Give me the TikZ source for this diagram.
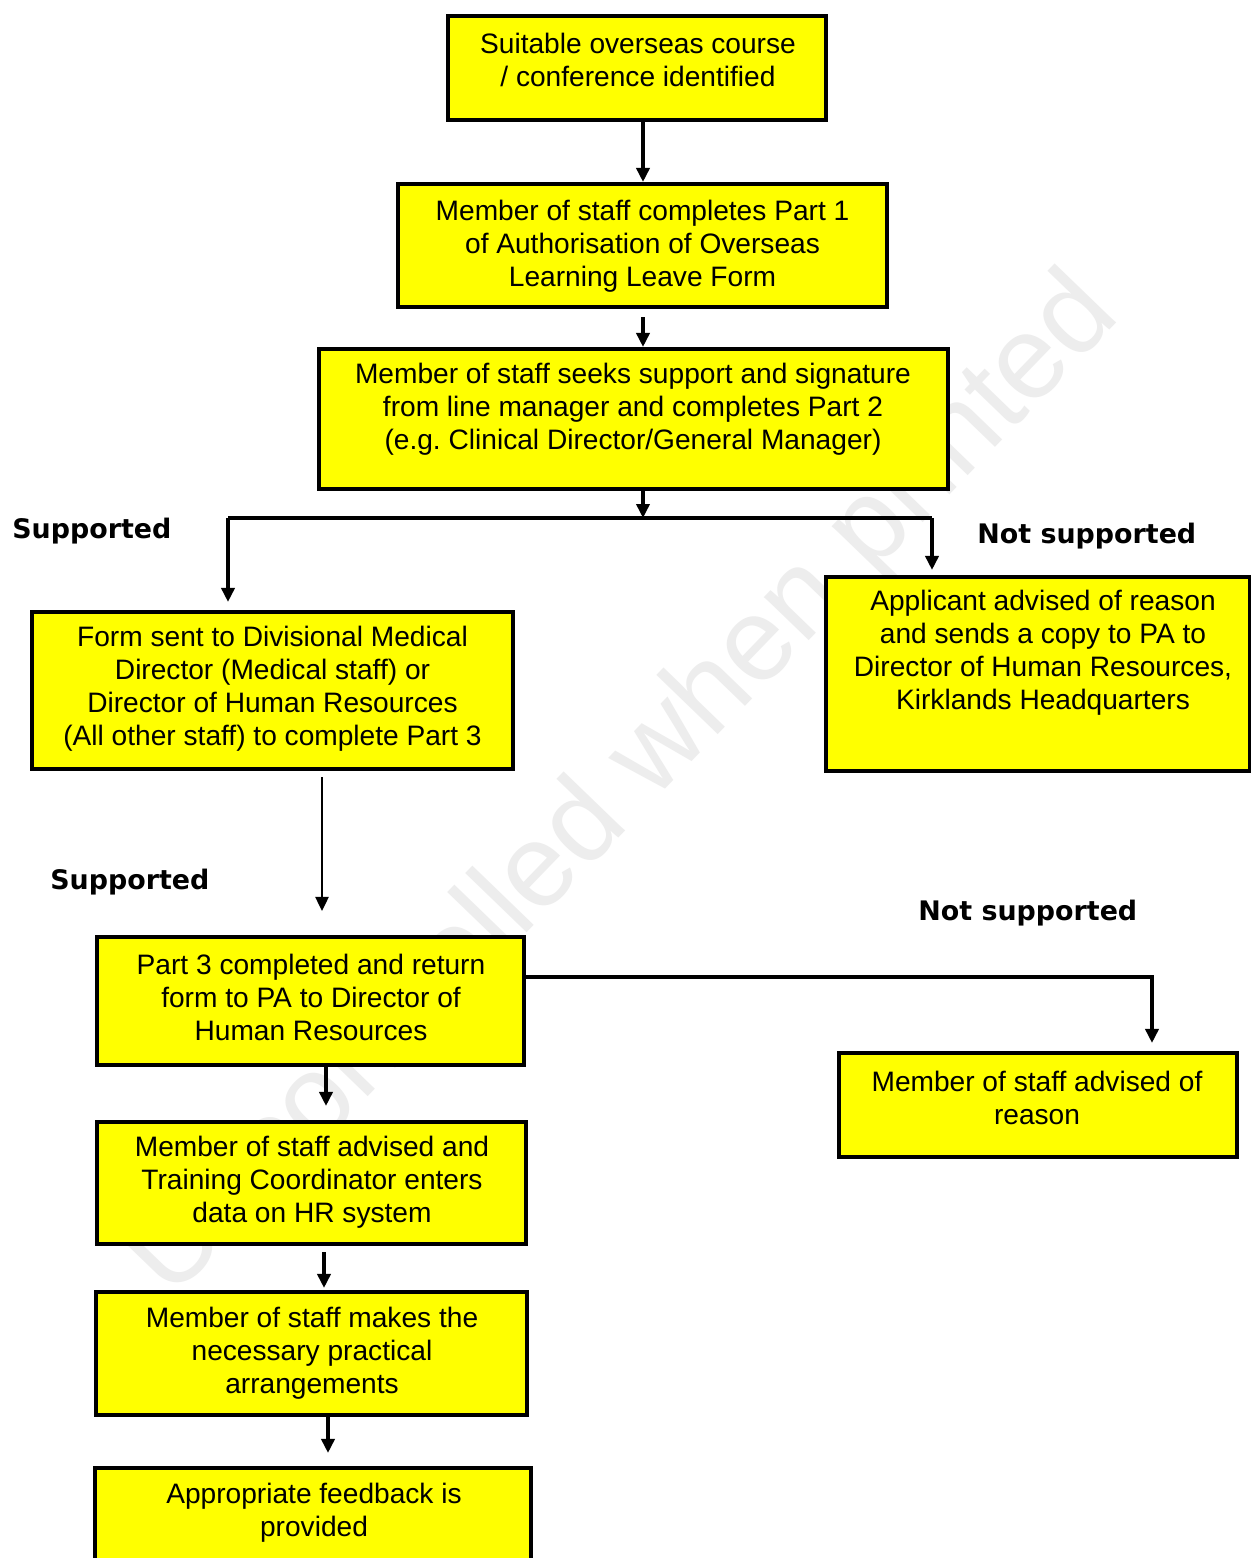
\documentclass[tikz,border=0pt]{standalone}
\usepackage{fontspec}
\setmainfont{Liberation Sans}
\newfontfamily\lblfont{DejaVu Sans}
\usetikzlibrary{arrows.meta}
\frenchspacing
\definecolor{boxyellow}{HTML}{FFFF00}
\tikzset{
  box/.style={draw=black, line width=2.3pt, fill=boxyellow, inner sep=0pt},
  boxtext/.style={align=center, font=\fontsize{16}{18.8}\selectfont, inner sep=0pt},
  lbl/.style={font=\lblfont\bfseries\fontsize{15.3}{18}\selectfont, anchor=west, inner sep=0pt},
  arr/.style={draw=black, line width=2pt, -{Triangle[length=0.28cm,width=0.26cm]}},
  plain/.style={draw=black, line width=2pt},
  wm/.style={text=black!7, font=\fontsize{67}{80}\selectfont, rotate=46, inner sep=0pt}
}
\begin{document}
\begin{tikzpicture}
\useasboundingbox (0,0) rectangle (25.02,-31.16);
\clip (0,0) rectangle (25.02,-31.16);
\fill[white] (0,0) rectangle (25.02,-31.16);

% watermark
\node[wm] (wmark) at (12.5,-15.75) {Uncontrolled when printed};

% boxes
\node[box, minimum width=7.56cm, minimum height=2.08cm] (box1) at (12.74,-1.36) {};
\node[boxtext] (t1) at (12.76,-1.20) {Suitable overseas course\\/ conference identified};

\node[box, minimum width=9.78cm, minimum height=2.46cm] (box2) at (12.85,-4.91) {};
\node[boxtext] (t2) at (12.85,-4.93) {Member of staff completes Part 1\\of Authorisation of Overseas\\Learning Leave Form};

\node[box, minimum width=12.58cm, minimum height=2.80cm] (box3) at (12.67,-8.38) {};
\node[boxtext] (t3) at (12.66,-8.18) {Member of staff seeks support and signature\\from line manager and completes Part 2\\(e.g. Clinical Director/General Manager)};

\node[box, minimum width=9.62cm, minimum height=3.14cm] (box4) at (5.45,-13.81) {};
\node[boxtext] (t4) at (5.45,-13.78) {Form sent to Divisional Medical\\Director (Medical staff) or\\Director of Human Resources\\(All other staff) to complete Part 3};

\node[box, minimum width=8.48cm, minimum height=3.88cm] (box5) at (20.76,-13.48) {};
\node[boxtext] (t5) at (20.86,-13.06) {Applicant advised of reason\\and sends a copy to PA to\\Director of Human Resources,\\Kirklands Headquarters};

\node[box, minimum width=8.54cm, minimum height=2.56cm] (box6) at (6.21,-20.02) {};
\node[boxtext] (t6) at (6.22,-19.95) {Part 3 completed and return\\form to PA to Director of\\Human Resources};

\node[box, minimum width=7.96cm, minimum height=2.08cm] (box7) at (20.76,-22.10) {};
\node[boxtext] (t7) at (20.74,-21.96) {Member of staff advised of\\reason};

\node[box, minimum width=8.58cm, minimum height=2.44cm] (box8) at (6.23,-23.66) {};
\node[boxtext] (t8) at (6.24,-23.64) {Member of staff advised and\\Training Coordinator enters\\data on HR system};

\node[box, minimum width=8.62cm, minimum height=2.46cm] (box9) at (6.23,-27.07) {};
\node[boxtext] (t9) at (6.24,-27.06) {Member of staff makes the\\necessary practical\\arrangements};

\node[box, minimum width=8.72cm, minimum height=2.44cm] (box10) at (6.26,-30.58) {};
\node[boxtext] (t10) at (6.28,-30.26) {Appropriate feedback is\\provided};

% labels
\node[lbl] (l1) at (0.24,-10.62) {Supported};
\node[lbl] (l2) at (19.54,-10.72) {Not supported};
\node[lbl] (l3) at (1.00,-17.64) {Supported};
\node[lbl] (l4) at (18.36,-18.26) {Not supported};

% helper coordinates
\coordinate (cx) at (12.86,0);
\coordinate (sp) at (12.86,-10.36);
\coordinate (cL) at (4.56,-10.36);
\coordinate (cR) at (18.64,-10.36);
\coordinate (c5) at (6.44,0);
\coordinate (c6) at (23.04,-19.54);
\coordinate (c7) at (6.52,0);
\coordinate (c8) at (6.48,0);
\coordinate (c9) at (6.56,0);

% connectors
\draw[arr] (cx |- box1.south) -- (cx |- box2.north);
\draw[arr, shorten <=0.16cm] (cx |- box2.south) -- (cx |- box3.north);
\draw[arr] (cx |- box3.south) -- (sp);
\draw[plain] (cL) -- (cR);
\draw[arr, shorten >=0.16cm] (cL) -- (cL |- box4.north);
\draw[arr, shorten >=0.10cm] (cR) -- (cR |- box5.north);
\draw[arr, line width=1.4pt, shorten <=0.12cm, shorten >=0.48cm] (c5 |- box4.south) -- (c5 |- box6.north);
\draw[arr, shorten >=0.16cm] (box6.east |- c6) -- (c6) -- (c6 |- box7.north);
\draw[arr, shorten >=0.28cm] (c7 |- box6.south) -- (c7 |- box8.north);
\draw[arr, shorten <=0.12cm, shorten >=0.04cm] (c8 |- box8.south) -- (c8 |- box9.north);
\draw[arr, shorten >=0.26cm] (c9 |- box9.south) -- (c9 |- box10.north);
\end{tikzpicture}
\end{document}
